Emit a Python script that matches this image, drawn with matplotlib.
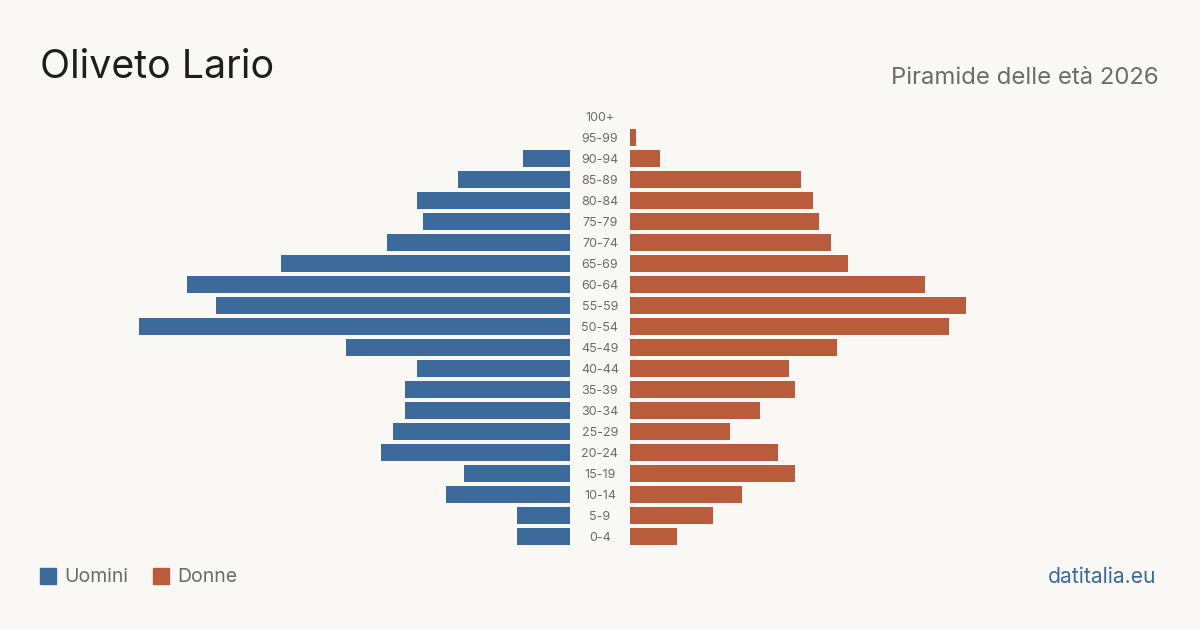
import matplotlib.pyplot as plt
from matplotlib.patches import Rectangle

plt.rcParams['font.family'] = ['Inter', 'DejaVu Sans']

ages = ['0-4', '5-9', '10-14', '15-19', '20-24', '25-29', '30-34', '35-39',
        '40-44', '45-49', '50-54', '55-59', '60-64', '65-69', '70-74', '75-79',
        '80-84', '85-89', '90-94', '95-99', '100+']
uomini = [9, 9, 21, 18, 32, 30, 28, 28, 26, 38, 73, 60, 65, 49, 31, 25, 26, 19, 8, 0, 0]
donne = [8, 14, 19, 28, 25, 17, 22, 28, 27, 35, 54, 57, 50, 37, 34, 32, 31, 29, 5, 1, 0]

blue = '#3b6a9b'
orange = '#b95c3b'
bg = '#f9f8f4'
grey = '#6b6b6b'

W, H = 1200, 630
fig = plt.figure(figsize=(12, 6.3), dpi=100, facecolor=bg)

px = 5.9  # pixels per person
top, bottom = 105.5, 546.5
ax_h = (bottom - top) / H
ax_y = (H - bottom) / H

axl = fig.add_axes([40 / W, ax_y, 530 / W, ax_h])
axr = fig.add_axes([630 / W, ax_y, 530 / W, ax_h])
y = range(len(ages))
axl.barh(y, uomini, height=17 / 21, color=blue)
axr.barh(y, donne, height=17 / 21, color=orange)
axl.set_xlim(530 / px, 0)
axr.set_xlim(0, 530 / px)
for a in (axl, axr):
    a.set_ylim(-0.5, len(ages) - 0.5)
    a.axis('off')

for i, lab in enumerate(ages):
    yy = (H - (538 - i * 21)) / H
    fig.text(600 / W, yy, lab, ha='center', va='center', fontsize=9, color=grey)

fig.text(40 / W, (H - 67) / H, 'Oliveto Lario', fontsize=28.3, color='#1e1e1e',
         ha='left', va='center')
fig.text(1159 / W, (H - 78) / H, 'Piramide delle età 2026', fontsize=17.2,
         color=grey, ha='right', va='center')

# legend
fig.patches.append(Rectangle((40 / W, (H - 584) / H), 16 / W, 16 / H,
                             transform=fig.transFigure, color=blue))
fig.text(64 / W, (H - 577) / H, 'Uomini', fontsize=14, color=grey, va='center')
fig.patches.append(Rectangle((153 / W, (H - 584) / H), 16 / W, 16 / H,
                             transform=fig.transFigure, color=orange))
fig.text(177 / W, (H - 577) / H, 'Donne', fontsize=14, color=grey, va='center')

fig.text(1156 / W, (H - 577) / H, 'datitalia.eu', fontsize=15.2, color=blue,
         ha='right', va='center')

fig.savefig('out.png', dpi=100, facecolor=bg)
